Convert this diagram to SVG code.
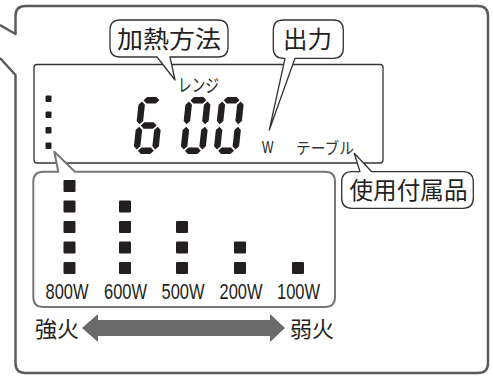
<svg xmlns="http://www.w3.org/2000/svg" xmlns:xlink="http://www.w3.org/1999/xlink" width="493" height="376" viewBox="0 0 493 376">
<style>
.jp{font-family:"Noto Sans CJK JP","Noto Sans",sans-serif;fill:#231f20}
.num{font-family:"Liberation Sans",Arial,sans-serif;fill:#231f20}
.bub{fill:#fff;stroke:#333;stroke-width:1.3;stroke-linejoin:round}
.seg{fill:#231f20}
.sq{fill:#231f20}
</style>
<defs>
<polygon id="sa" points="4.55,3.25 7.8,0 17.2,0 20.45,3.25 17.2,6.5 7.8,6.5"/>
<polygon id="sg" points="4.55,28.5 7.8,25.25 17.2,25.25 20.45,28.5 17.2,31.75 7.8,31.75"/>
<polygon id="sd" points="4.55,53.75 7.8,50.5 17.2,50.5 20.45,53.75 17.2,57 7.8,57"/>
<polygon id="sf" points="3.25,4.55 6.5,7.8 6.5,23.95 3.25,27.2 0,23.95 0,7.8"/>
<polygon id="se" points="3.25,29.8 6.5,33.05 6.5,49.2 3.25,52.45 0,49.2 0,33.05"/>
<polygon id="sb" points="21.75,4.55 25,7.8 25,23.95 21.75,27.2 18.5,23.95 18.5,7.8"/>
<polygon id="sc" points="21.75,29.8 25,33.05 25,49.2 21.75,52.45 18.5,49.2 18.5,33.05"/>
<g id="d6" class="seg"><use xlink:href="#sa"/><use xlink:href="#sf"/><use xlink:href="#sg"/><use xlink:href="#se"/><use xlink:href="#sd"/><use xlink:href="#sc"/></g>
<g id="d0" class="seg"><use xlink:href="#sa"/><use xlink:href="#sb"/><use xlink:href="#sc"/><use xlink:href="#sd"/><use xlink:href="#se"/><use xlink:href="#sf"/></g>
</defs>
<rect width="493" height="376" fill="#fff"/>
<g id="frame">
<path d="M0,25 L15.5,34 L15.5,16 Q15.5,6 25.5,6 L478,6 Q488,6 488,16 L488,363 Q488,373 478,373 L25.5,373 Q15.5,373 15.5,363 L15.5,75 L0,58" fill="none" stroke="#5b5b5b" stroke-width="2.5" stroke-linejoin="round"/>
</g>
<g id="lcd">
<rect x="34" y="64.5" width="349" height="98.5" rx="3" fill="#fff" stroke="#333" stroke-width="1.3"/>
<g class="sq">
<rect x="45.5" y="95.5" width="6" height="6.5" rx="1"/>
<rect x="45.5" y="111.5" width="6" height="6.5" rx="1"/>
<rect x="45.5" y="127" width="6" height="6.5" rx="1"/>
<rect x="45.5" y="142.5" width="6" height="6.5" rx="1"/>
</g>
<use xlink:href="#d6" transform="translate(139.3,97) skewX(-6.3)"/>
<use xlink:href="#d0" transform="translate(186.3,97) skewX(-6.3)"/>
<use xlink:href="#d0" transform="translate(219.5,97) skewX(-6.3)"/>
<text class="jp" x="178" y="92" font-size="18" textLength="41" lengthAdjust="spacingAndGlyphs">レンジ</text>
<text class="num" x="262" y="153" font-size="16" textLength="11.5" lengthAdjust="spacingAndGlyphs" fill="#333">W</text>
<text class="jp" x="296" y="153.5" font-size="16" textLength="58" lengthAdjust="spacingAndGlyphs" style="fill:#333">テーブル</text>
</g>
<g id="callout-method">
<path class="bub" d="M157,57 L175,80 L170,57 L218,57 Q228,57 228,47 L228,30 Q228,20 218,20 L120,20 Q110,20 110,30 L110,47 Q110,57 120,57 Z"/>
<text class="jp" x="117" y="47.5" font-size="24" textLength="104" lengthAdjust="spacingAndGlyphs">加熱方法</text>
</g>
<g id="callout-output">
<path class="bub" d="M285,58.3 L269.3,130 L295,58.3 L333.3,58.3 Q343.3,58.3 343.3,48.3 L343.3,30 Q343.3,20 333.3,20 L283.3,20 Q273.3,20 273.3,30 L273.3,48.3 Q273.3,58.3 283.3,58.3 Z"/>
<text class="jp" x="283" y="48" font-size="24" textLength="49" lengthAdjust="spacingAndGlyphs">出力</text>
</g>
<g id="callout-accessory">
<path class="bub" d="M360,171.7 L354.3,153.3 L371.7,171.7 L463,171.7 Q473.3,171.7 473.3,182 L473.3,198 Q473.3,208.3 463,208.3 L352,208.3 Q341.7,208.3 341.7,198 L341.7,182 Q341.7,171.7 352,171.7 Z"/>
<text class="jp" x="349.5" y="198.5" font-size="23.5" textLength="118" lengthAdjust="spacingAndGlyphs">使用付属品</text>
</g>
<g id="power-levels">
<path d="M58.3,171.7 L54.3,151.7 L75,171.7 L325,171.7 Q335,171.7 335,181.7 L335,297 Q335,307 325,307 L43.3,307 Q33.3,307 33.3,297 L33.3,181.7 Q33.3,171.7 43.3,171.7 Z" fill="#fff" stroke="#777" stroke-width="2" stroke-linejoin="round"/>
<g class="sq">
<rect x="63.5" y="180" width="12" height="12" rx="1"/>
<rect x="63.5" y="200.5" width="12" height="12" rx="1"/>
<rect x="63.5" y="221" width="12" height="12" rx="1"/>
<rect x="63.5" y="241.5" width="12" height="12" rx="1"/>
<rect x="63.5" y="262" width="12" height="12" rx="1"/>
<rect x="119" y="200.5" width="12" height="12" rx="1"/>
<rect x="119" y="221" width="12" height="12" rx="1"/>
<rect x="119" y="241.5" width="12" height="12" rx="1"/>
<rect x="119" y="262" width="12" height="12" rx="1"/>
<rect x="176" y="221" width="12" height="12" rx="1"/>
<rect x="176" y="241.5" width="12" height="12" rx="1"/>
<rect x="176" y="262" width="12" height="12" rx="1"/>
<rect x="234" y="241.5" width="12" height="12" rx="1"/>
<rect x="234" y="262" width="12" height="12" rx="1"/>
<rect x="292" y="262" width="12" height="12" rx="1"/>
</g>
<g class="num" font-size="22" text-anchor="middle">
<text x="67" y="299" textLength="43" lengthAdjust="spacingAndGlyphs">800W</text>
<text x="125.5" y="299" textLength="43" lengthAdjust="spacingAndGlyphs">600W</text>
<text x="183" y="299" textLength="43" lengthAdjust="spacingAndGlyphs">500W</text>
<text x="241" y="299" textLength="43" lengthAdjust="spacingAndGlyphs">200W</text>
<text x="298.5" y="299" textLength="43" lengthAdjust="spacingAndGlyphs">100W</text>
</g>
</g>
<g id="scale">
<path d="M82,328 L98,314 L98,320 L270,320 L270,314 L285,328 L270,342 L270,336 L98,336 L98,342 Z" fill="#6a6a6a"/>
<text class="jp" x="35" y="336.5" font-size="22" textLength="44" lengthAdjust="spacingAndGlyphs">強火</text>
<text class="jp" x="290" y="336.5" font-size="22" textLength="44" lengthAdjust="spacingAndGlyphs">弱火</text>
</g>
</svg>
